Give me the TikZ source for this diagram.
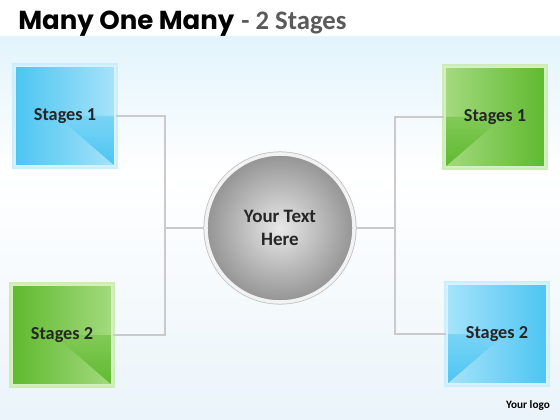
\documentclass[tikz,border=0pt]{standalone}
\usepackage{fontspec}
\setmainfont{Carlito}
\newfontfamily\headfont{Poppins}
\usetikzlibrary{calc, positioning, shapes.geometric}

\definecolor{bluemid}{HTML}{4CC5F2}
\definecolor{bluepale}{HTML}{A6E3FA}
\definecolor{blueglow}{HTML}{C9EEFC}
\definecolor{greenmid}{HTML}{5FB92F}
\definecolor{greenpale}{HTML}{A3DA7E}
\definecolor{greenglow}{HTML}{CDEDB4}
\definecolor{bgblue}{HTML}{E2F4FC}
\definecolor{bgfoot}{HTML}{EAF4FA}
\definecolor{linkgray}{HTML}{CACACA}
\definecolor{subgray}{HTML}{5A5A5A}

\begin{document}
\begin{tikzpicture}[
    x=0.025cm, y=-0.025cm,
    stagebox/.style={rectangle, minimum width=2.5cm, minimum height=2.5cm,
      draw=white!55!#1pale, line width=0.8pt,
      preaction={draw=#1glow, line width=4.5pt},
      font=\bfseries\fontsize{13}{15}\selectfont, text=black!85},
    foldleft/.style={left color=#1mid, right color=#1pale, path picture={
      \shade[top color=#1pale, bottom color=#1mid]
        ($(path picture bounding box.west)!0.42!(path picture bounding box.east)$)
        -- (path picture bounding box.east)
        -- (path picture bounding box.south east) -- cycle;}},
    foldright/.style={left color=#1pale, right color=#1mid, path picture={
      \shade[top color=#1pale, bottom color=#1mid]
        ($(path picture bounding box.east)!0.42!(path picture bounding box.west)$)
        -- (path picture bounding box.west)
        -- (path picture bounding box.south west) -- cycle;}},
    hub/.style={circle, minimum size=3.7cm, shading=radial,
      inner color=black!9, outer color=black!42,
      draw=black!5, line width=2.5pt,
      preaction={draw=black!25, line width=3.6pt},
      font=\bfseries\fontsize{13.5}{16}\selectfont, align=center, text=black!85},
    link/.style={draw=linkgray, line width=1pt}
]

% Background
\fill[white] (0,0) rectangle (560,420);
\shade[top color=bgblue, bottom color=white] (0,37) rectangle (560,175);
\shade[top color=white, bottom color=bgfoot] (0,175) rectangle (560,420);

% Title
\node[anchor=base west, inner sep=0pt] (title) at (18,30)
  {{\headfont\bfseries\fontsize{18.5}{22}\selectfont Many One Many}\hspace{5pt}%
   {\color{subgray}\bfseries\fontsize{19}{22}\selectfont - 2 Stages}};

% Nodes
\node[hub] (hub) at (280,228) {Your Text\\Here};
\node[stagebox=blue, foldleft=blue] (l1) at (65,116) {Stages 1};
\node[stagebox=green, foldleft=green] (l2) at (62,335) {Stages 2};
\node[stagebox=green, foldright=green] (r1) at (495,117) {Stages 1};
\node[stagebox=blue, foldright=blue] (r2) at (497,334) {Stages 2};
\node[anchor=base, font=\bfseries\fontsize{8}{10}\selectfont] (logo) at (528,408) {Your logo};

% Lines
\coordinate (lj) at (165,228);
\coordinate (rj) at (395,228);
\path[link] (l1.east) -| (lj) |- (l2.east);
\path[link] (lj) -- (hub.west);
\path[link] (r1.west) -| (rj) |- (r2.west);
\path[link] (rj) -- (hub.east);

\end{tikzpicture}
\end{document}
